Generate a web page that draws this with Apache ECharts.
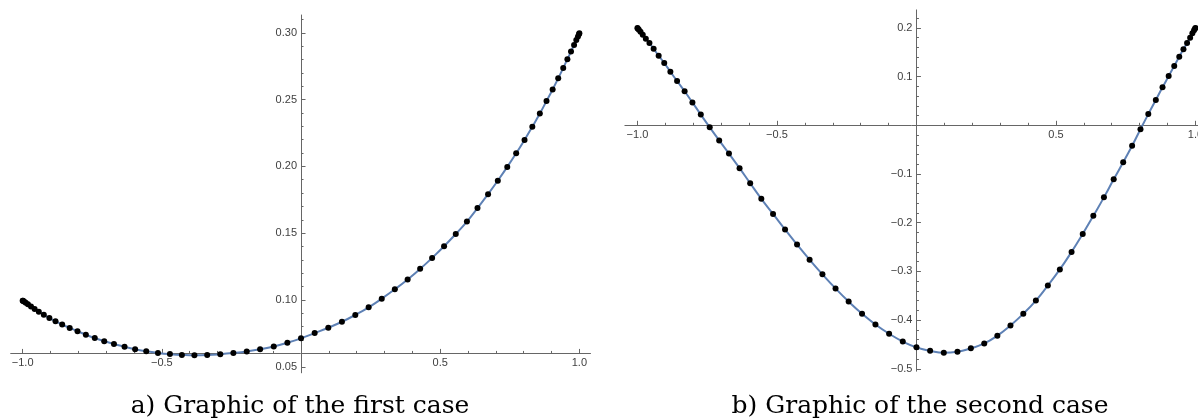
<!DOCTYPE html>
<html>
<head>
<meta charset="utf-8">
<script src="https://cdn.jsdelivr.net/npm/echarts@6/dist/echarts.min.js"></script>
<style>
  html, body { margin: 0; padding: 0; background: #fff; }
  .main { width: 1198px; height: 420px; }
</style>
</head>
<body>
<div class="main"></div>
<script>
// sample points (the same nodes are used in both cases)
const xNodes = [-1, -0.999, -0.995, -0.989, -0.981, -0.970, -0.957, -0.942, -0.924, -0.904, -0.882,
  -0.858, -0.831, -0.803, -0.773, -0.741, -0.707, -0.672, -0.634, -0.596, -0.556, -0.514, -0.471,
  -0.428, -0.383, -0.337, -0.290, -0.243, -0.195, -0.147, -0.098, -0.049, 0, 0.049, 0.098, 0.147,
  0.195, 0.243, 0.290, 0.337, 0.383, 0.428, 0.471, 0.514, 0.556, 0.596, 0.634, 0.672, 0.707, 0.741,
  0.773, 0.803, 0.831, 0.858, 0.882, 0.904, 0.924, 0.942, 0.957, 0.970, 0.981, 0.989, 0.995, 0.999, 1]

// a) first case
const yCase1 = [0.0995, 0.0994, 0.0988, 0.0979, 0.0968, 0.0952, 0.0933, 0.0912, 0.0889, 0.0865, 0.0841,
  0.0816, 0.0791, 0.0766, 0.0740, 0.0715, 0.0692, 0.0670, 0.0650, 0.0631, 0.0616, 0.0604, 0.0595,
  0.0589, 0.0586, 0.0588, 0.0594, 0.0603, 0.0615, 0.0631, 0.0652, 0.0680, 0.0713, 0.0752, 0.0792, 0.0837,
  0.0888, 0.0945, 0.1010, 0.1080, 0.1154, 0.1233, 0.1315, 0.1402, 0.1494, 0.1587, 0.1688, 0.1792, 0.1893, 0.1996,
  0.2098, 0.2198, 0.2296, 0.2395, 0.2489, 0.2576, 0.2659, 0.2736, 0.2802, 0.2860, 0.2909, 0.2945, 0.2972, 0.2990, 0.2996]

// b) second case
const yCase2 = [0.200, 0.199, 0.196, 0.192, 0.186, 0.178, 0.169, 0.157, 0.143, 0.128, 0.110,
  0.091, 0.070, 0.047, 0.022, -0.004, -0.031, -0.058, -0.088, -0.119, -0.151, -0.182, -0.214,
  -0.245, -0.276, -0.306, -0.335, -0.362, -0.387, -0.409, -0.428, -0.444, -0.456, -0.463, -0.467, -0.465,
  -0.458, -0.448, -0.432, -0.411, -0.387, -0.360, -0.329, -0.296, -0.260, -0.223, -0.186, -0.148, -0.111, -0.076,
  -0.042, -0.008, 0.023, 0.052, 0.078, 0.101, 0.122, 0.141, 0.156, 0.169, 0.180, 0.189, 0.195, 0.199, 0.200]

// ticks
const xTicks = [-1, -0.5, 0.5, 1]
const xMinor = [-0.9, -0.8, -0.7, -0.6, -0.4, -0.3, -0.2, -0.1, 0.1, 0.2, 0.3, 0.4, 0.6, 0.7, 0.8, 0.9]
const yTicks1 = [0.05, 0.10, 0.15, 0.20, 0.25, 0.30]
const yMinor1 = [0.06, 0.07, 0.08, 0.09, 0.11, 0.12, 0.13, 0.14, 0.16, 0.17, 0.18, 0.19,
  0.21, 0.22, 0.23, 0.24, 0.26, 0.27, 0.28, 0.29, 0.31]
const yTicks2 = [-0.5, -0.4, -0.3, -0.2, -0.1, 0.1, 0.2]
const yMinor2 = [-0.48, -0.46, -0.44, -0.42, -0.38, -0.36, -0.34, -0.32, -0.28, -0.26, -0.24, -0.22,
  -0.18, -0.16, -0.14, -0.12, -0.08, -0.06, -0.04, -0.02, 0.02, 0.04, 0.06, 0.08,
  0.12, 0.14, 0.16, 0.18, 0.22]

const captions = ['a) Graphic of the first case', 'b) Graphic of the second case']

// plot ranges and where the axes cross
const xRange1 = [-1.043, 1.04], yRange1 = [0.0455, 0.3133], origin1 = [0, 0.06]
const xRange2 = [-1.045, 1.045], yRange2 = [-0.505, 0.237], origin2 = [0, 0]

const g1 = { left: 10.7, top: 15, width: 579.8, height: 357.8 }
const g2 = { left: 624.9, top: 9.9, width: 583.1, height: 361.3 }

;(function () {
  const myChart = echarts.init(document.querySelector('.main'), null, { renderer: 'canvas' })
  const axisColor = '#666'
  const labelFont = { color: '#404040', fontFamily: 'Liberation Sans', fontSize: 11 }
  const fmt = (d) => (v) => (v < 0 ? '\u2212' : '') + Math.abs(v).toFixed(d)
  // shift the axes from the grid edge to the crossing point
  const shift = (value, range, size) => -(value - range[0]) / (range[1] - range[0]) * size

  const gridOf = (g) => Object.assign({ outerBoundsMode: 'none', containLabel: false }, g)

  // main axis: line, major ticks, labels
  const mainAxis = (range, ticks, digits, extra) => Object.assign({
    type: 'value',
    min: range[0],
    max: range[1],
    splitLine: { show: false },
    axisLine: { show: true, onZero: false, lineStyle: { color: axisColor, width: 1 } },
    axisTick: { show: true, inside: true, length: 4.5, customValues: ticks, lineStyle: { color: axisColor } },
    axisLabel: Object.assign({ show: true, margin: 4, customValues: ticks, formatter: fmt(digits) }, labelFont)
  }, extra)

  // overlay axis for the short minor ticks only
  const minorAxis = (range, ticks, extra) => Object.assign({
    type: 'value',
    min: range[0],
    max: range[1],
    splitLine: { show: false },
    axisLine: { show: false, onZero: false },
    axisTick: { show: true, inside: true, length: 2.5, customValues: ticks, lineStyle: { color: axisColor } },
    axisLabel: { show: false }
  }, extra)

  const series = (data, idx) => ({
    type: 'line',
    xAxisIndex: idx,
    yAxisIndex: idx,
    data: xNodes.map((x, i) => [x, data[i]]),
    smooth: true,
    symbol: 'circle',
    symbolSize: 6,
    itemStyle: { color: '#000' },
    lineStyle: { color: '#5e81b5', width: 2 },
    z: 5
  })

  const xOff1 = shift(origin1[1], yRange1, g1.height)
  const yOff1 = shift(origin1[0], xRange1, g1.width)
  const xOff2 = shift(origin2[1], yRange2, g2.height)
  const yOff2 = shift(origin2[0], xRange2, g2.width)

  const option = {
    animation: false,
    grid: [gridOf(g1), gridOf(g1), gridOf(g2), gridOf(g2)],
    xAxis: [
      mainAxis(xRange1, xTicks, 1, { gridIndex: 0, position: 'bottom', offset: xOff1 }),
      minorAxis(xRange1, xMinor, { gridIndex: 1, position: 'bottom', offset: xOff1 }),
      mainAxis(xRange2, xTicks, 1, { gridIndex: 2, position: 'bottom', offset: xOff2 }),
      minorAxis(xRange2, xMinor, { gridIndex: 3, position: 'bottom', offset: xOff2 })
    ],
    yAxis: [
      mainAxis(yRange1, yTicks1, 2, { gridIndex: 0, position: 'left', offset: yOff1 }),
      minorAxis(yRange1, yMinor1, { gridIndex: 1, position: 'left', offset: yOff1 }),
      mainAxis(yRange2, yTicks2, 1, { gridIndex: 2, position: 'left', offset: yOff2 }),
      minorAxis(yRange2, yMinor2, { gridIndex: 3, position: 'left', offset: yOff2 })
    ],
    series: [series(yCase1, 0), series(yCase2, 2)],
    graphic: [
      {
        type: 'text', x: 300, y: 406,
        style: { text: captions[0], fill: '#000', fontFamily: 'DejaVu Serif', fontSize: 25,
          align: 'center', verticalAlign: 'middle', textAlign: 'center', textVerticalAlign: 'middle' }
      },
      {
        type: 'text', x: 920, y: 406,
        style: { text: captions[1], fill: '#000', fontFamily: 'DejaVu Serif', fontSize: 25,
          align: 'center', verticalAlign: 'middle', textAlign: 'center', textVerticalAlign: 'middle' }
      }
    ]
  }
  myChart.setOption(option)
})()
</script>
</body>
</html>
